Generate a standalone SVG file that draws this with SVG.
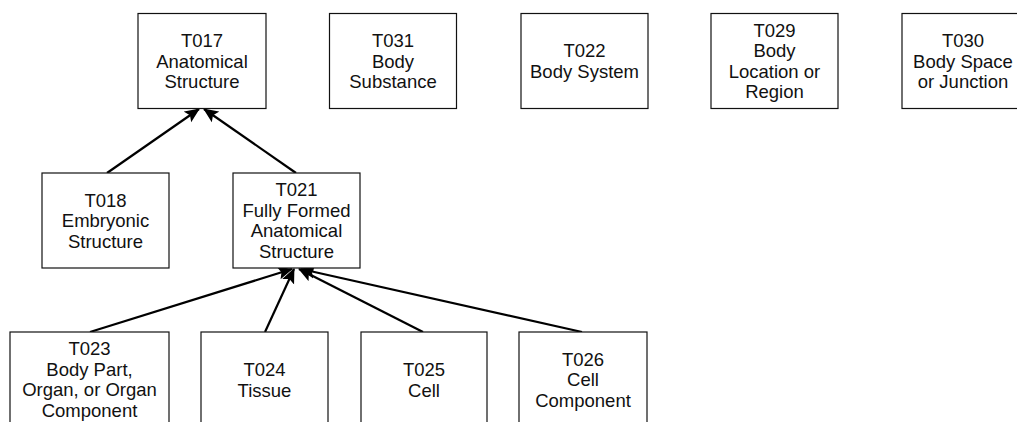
<svg xmlns="http://www.w3.org/2000/svg" width="1017" height="422" viewBox="0 0 1017 422">
<style>
.box{fill:#fff;stroke:#111;stroke-width:1.2}
.t{font-family:"Liberation Sans",Arial,sans-serif;font-size:18.5px;fill:#111;text-anchor:middle}
.c{stroke:#000;stroke-width:2.2;fill:none}
</style>
<defs>
<marker id="ah" markerUnits="userSpaceOnUse" markerWidth="16" markerHeight="14" refX="14" refY="7" orient="auto">
<path d="M0,0.5 L15,7 L0,13.5 L3,7 Z" fill="#000"/>
</marker>
</defs>
<rect width="1017" height="422" fill="#fff"/>
<g id="connectors">
<line class="c" x1="107" y1="173" x2="199" y2="109" marker-end="url(#ah)"/>
<line class="c" x1="296" y1="173" x2="204" y2="109" marker-end="url(#ah)"/>
<line class="c" x1="90" y1="332" x2="292" y2="269" marker-end="url(#ah)"/>
<line class="c" x1="265" y1="332" x2="294" y2="269" marker-end="url(#ah)"/>
<line class="c" x1="423" y1="332" x2="299" y2="269" marker-end="url(#ah)"/>
<line class="c" x1="582" y1="332" x2="301" y2="269" marker-end="url(#ah)"/>
</g>
<g id="T017"><rect class="box" x="138" y="13.5" width="128" height="95"/>
<text class="t" x="202" y="47">T017</text><text class="t" x="202" y="67.5">Anatomical</text><text class="t" x="202" y="88">Structure</text></g>
<g id="T031"><rect class="box" x="329.5" y="13.5" width="127" height="95"/>
<text class="t" x="393" y="47">T031</text><text class="t" x="393" y="67.5">Body</text><text class="t" x="393" y="88">Substance</text></g>
<g id="T022"><rect class="box" x="521" y="13.5" width="127" height="95"/>
<text class="t" x="584.5" y="57">T022</text><text class="t" x="584.5" y="77.5">Body System</text></g>
<g id="T029"><rect class="box" x="711" y="13.5" width="127" height="95"/>
<text class="t" x="774.5" y="36.5">T029</text><text class="t" x="774.5" y="57">Body</text><text class="t" x="774.5" y="77.5">Location or</text><text class="t" x="774.5" y="98">Region</text></g>
<g id="T030"><rect class="box" x="902" y="13.5" width="127" height="95"/>
<text class="t" x="963" y="47">T030</text><text class="t" x="963" y="67.5">Body Space</text><text class="t" x="963" y="88">or Junction</text></g>
<g id="T018"><rect class="box" x="42" y="173" width="127" height="95"/>
<text class="t" x="105.5" y="206.5">T018</text><text class="t" x="105.5" y="227">Embryonic</text><text class="t" x="105.5" y="247.5">Structure</text></g>
<g id="T021"><rect class="box" x="233" y="173" width="127" height="95"/>
<text class="t" x="296.5" y="196">T021</text><text class="t" x="296.5" y="216.5">Fully Formed</text><text class="t" x="296.5" y="237">Anatomical</text><text class="t" x="296.5" y="257.5">Structure</text></g>
<g id="T023"><rect class="box" x="10" y="332" width="159" height="96"/>
<text class="t" x="89.5" y="355">T023</text><text class="t" x="89.5" y="375.5">Body Part,</text><text class="t" x="89.5" y="396">Organ, or Organ</text><text class="t" x="89.5" y="416.5">Component</text></g>
<g id="T024"><rect class="box" x="201" y="332" width="127" height="96"/>
<text class="t" x="264.5" y="376">T024</text><text class="t" x="264.5" y="396.5">Tissue</text></g>
<g id="T025"><rect class="box" x="361" y="332" width="126" height="96"/>
<text class="t" x="424" y="376">T025</text><text class="t" x="424" y="396.5">Cell</text></g>
<g id="T026"><rect class="box" x="519" y="332" width="128" height="96"/>
<text class="t" x="583" y="365.5">T026</text><text class="t" x="583" y="386">Cell</text><text class="t" x="583" y="406.5">Component</text></g>
</svg>
